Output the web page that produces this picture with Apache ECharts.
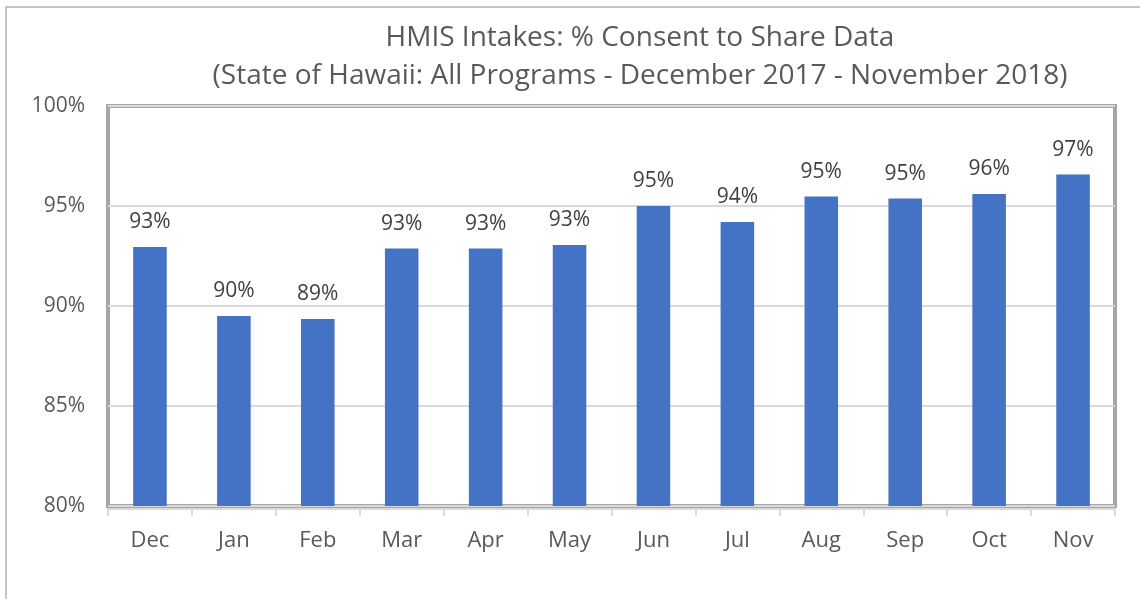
<!DOCTYPE html>
<html>
<head>
<meta charset="utf-8">
<script src="https://cdn.jsdelivr.net/npm/echarts@6/dist/echarts.min.js"></script>
<style>
  html, body { margin: 0; padding: 0; background: #fff; }
  #main { width: 1140px; height: 599px; }
</style>
</head>
<body>
<div id="main"></div>
<script>
// months Dec 2017 - Nov 2018
var months = ['Dec', 'Jan', 'Feb', 'Mar', 'Apr', 'May', 'Jun', 'Jul', 'Aug', 'Sep', 'Oct', 'Nov'];
// % consent
var consent = [92.95, 89.5, 89.35, 92.87, 92.87, 93.05, 95.0, 94.2, 95.47, 95.38, 95.6, 96.58];
var yTicks = [80, 85, 90, 95, 100];

var chart = echarts.init(document.getElementById('main'));

var font = 'Open Sans';

var option = {
  animation: false,
  title: {
    text: 'HMIS Intakes: % Consent to Share Data\n(State of Hawaii: All Programs - December 2017 - November 2018)',
    left: 635,
    top: 14,
    textAlign: 'center',
    textStyle: {
      fontFamily: font,
      fontWeight: 'normal',
      fontSize: 28,
      color: '#595959',
      lineHeight: 38
    }
  },
  // outer chart-area border (cut off on right and bottom)
  graphic: [{
    type: 'rect',
    shape: { x: 6, y: 7, width: 1300, height: 800 },
    style: { fill: 'none', stroke: '#b4b4b4', lineWidth: 1.5 },
    silent: true,
    z: -1
  }],
  grid: {
    left: 108,
    right: 25,
    top: 106,
    bottom: 93,
    show: true,
    borderColor: '#a6a6a6',
    borderWidth: 4,
    containLabel: false
  },
  xAxis: {
    type: 'category',
    data: months,
    offset: 3,
    axisLine: { lineStyle: { color: '#d9d9d9', width: 2 } },
    axisTick: { show: true, length: 7, lineStyle: { color: '#d9d9d9', width: 2 } },
    axisLabel: {
      margin: 21,
      fontFamily: font,
      fontSize: 22,
      color: '#595959'
    }
  },
  yAxis: {
    type: 'value',
    min: yTicks[0],
    max: yTicks[yTicks.length - 1],
    interval: 5,
    axisLine: { show: false },
    axisTick: { show: false },
    splitLine: { lineStyle: { color: '#d9d9d9', width: 2 } },
    axisLabel: {
      margin: 23,
      fontFamily: font,
      fontSize: 21,
      color: '#595959',
      formatter: '{value}%'
    }
  },
  series: [{
    type: 'bar',
    data: consent,
    barWidth: '40%',
    itemStyle: { color: '#4472c4' },
    label: {
      show: true,
      position: 'top',
      distance: 14,
      fontFamily: font,
      fontSize: 21,
      color: '#404040',
      formatter: function (p) { return Math.round(p.value) + '%'; }
    }
  }]
};

chart.setOption(option);
</script>
</body>
</html>
